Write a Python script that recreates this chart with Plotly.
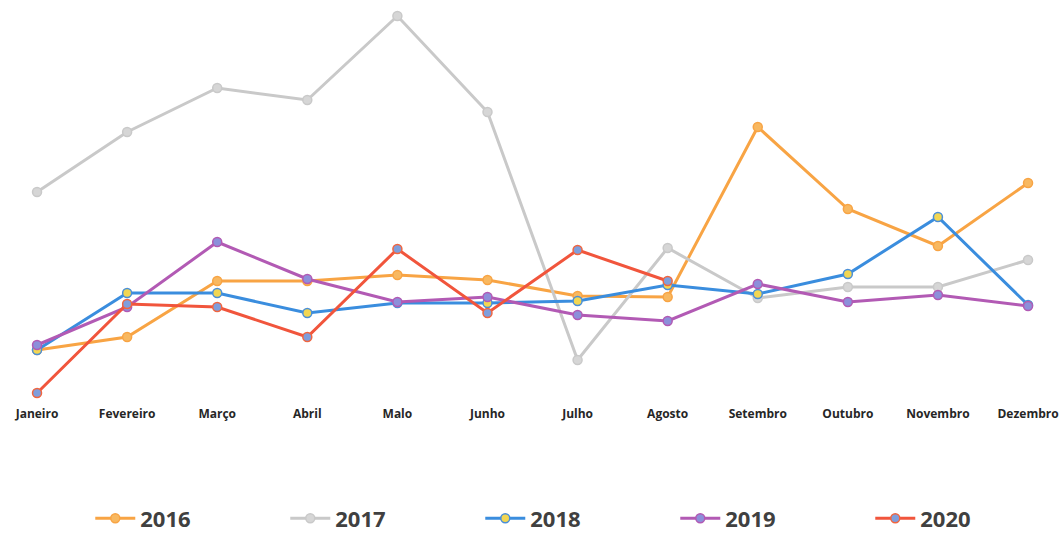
import plotly.graph_objects as go

months = ["Janeiro", "Fevereiro", "Março", "Abril", "Maio", "Junho", "Julho",
          "Agosto", "Setembro", "Outubro", "Novembro", "Dezembro"]
# display label (scan shows "Maio" as "Malo")
month_labels = ["Janeiro", "Fevereiro", "Março", "Abril", "Malo", "Junho", "Julho",
                "Agosto", "Setembro", "Outubro", "Novembro", "Dezembro"]

v2016 = [50, 63, 119, 119, 125, 120, 104, 103, 273, 191, 154, 217]
v2017 = [208, 268, 312, 300, 384, 288, 40, 152, 102, 113, 113, 140]
v2018 = [50, 107, 107, 87, 97, 97, 99, 115, 106, 126, 183, 95]
v2019 = [55, 93, 158, 121, 98, 103, 85, 79, 116, 98, 105, 94]
v2020 = [7, 96, 93, 63, 151, 87, 150, 119, None, None, None, None]

series = [
    ("2016", v2016, "#F8A444", "#F8A444", "#F8B860"),
    ("2017", v2017, "#C9C9C9", "#C9C9C9", "#D6D6D6"),
    ("2018", v2018, "#3A8DDE", "#4A8FD8", "#F2D653"),
    ("2019", v2019, "#B25AB4", "#B25AB4", "#8C8FDA"),
    ("2020", v2020, "#F1553C", "#F1653F", "#7F9EDC"),
]

fig = go.Figure()
for name, vals, lc, mc, mf in series:
    fig.add_trace(go.Scatter(
        x=months, y=vals, name=name, mode="lines+markers",
        line=dict(color=lc, width=3),
        marker=dict(size=9, color=mf, line=dict(color=mc, width=1.5)),
        connectgaps=False,
    ))

fig.update_layout(
    width=1062, height=533,
    margin=dict(l=0, r=0, t=0, b=128, autoexpand=False),
    paper_bgcolor="white", plot_bgcolor="white",
    font=dict(family="Open Sans, Liberation Sans, sans-serif", color="#262626"),
    xaxis=dict(
        range=[-0.411, 11.377], showgrid=False, zeroline=False, showline=False,
        ticks="", tickmode="array", tickvals=months, ticktext=month_labels,
        tickfont=dict(size=12, color="#262626", weight="bold"),
        automargin=False,
    ),
    yaxis=dict(range=[-5, 400], showgrid=False, zeroline=False, showline=False,
               showticklabels=False, ticks="", automargin=False),
    showlegend=True,
    legend=dict(
        orientation="h", x=0.085, xanchor="left", y=-0.28, yanchor="middle",
        font=dict(size=22, color="#404040", weight="bold"),
        entrywidth=140, entrywidthmode="pixels", itemwidth=40,
        bgcolor="rgba(0,0,0,0)",
    ),
)

fig.write_html("out.html", config={"displayModeBar": False},
               post_script="document.body.style.margin='0';document.body.style.padding='0';")
